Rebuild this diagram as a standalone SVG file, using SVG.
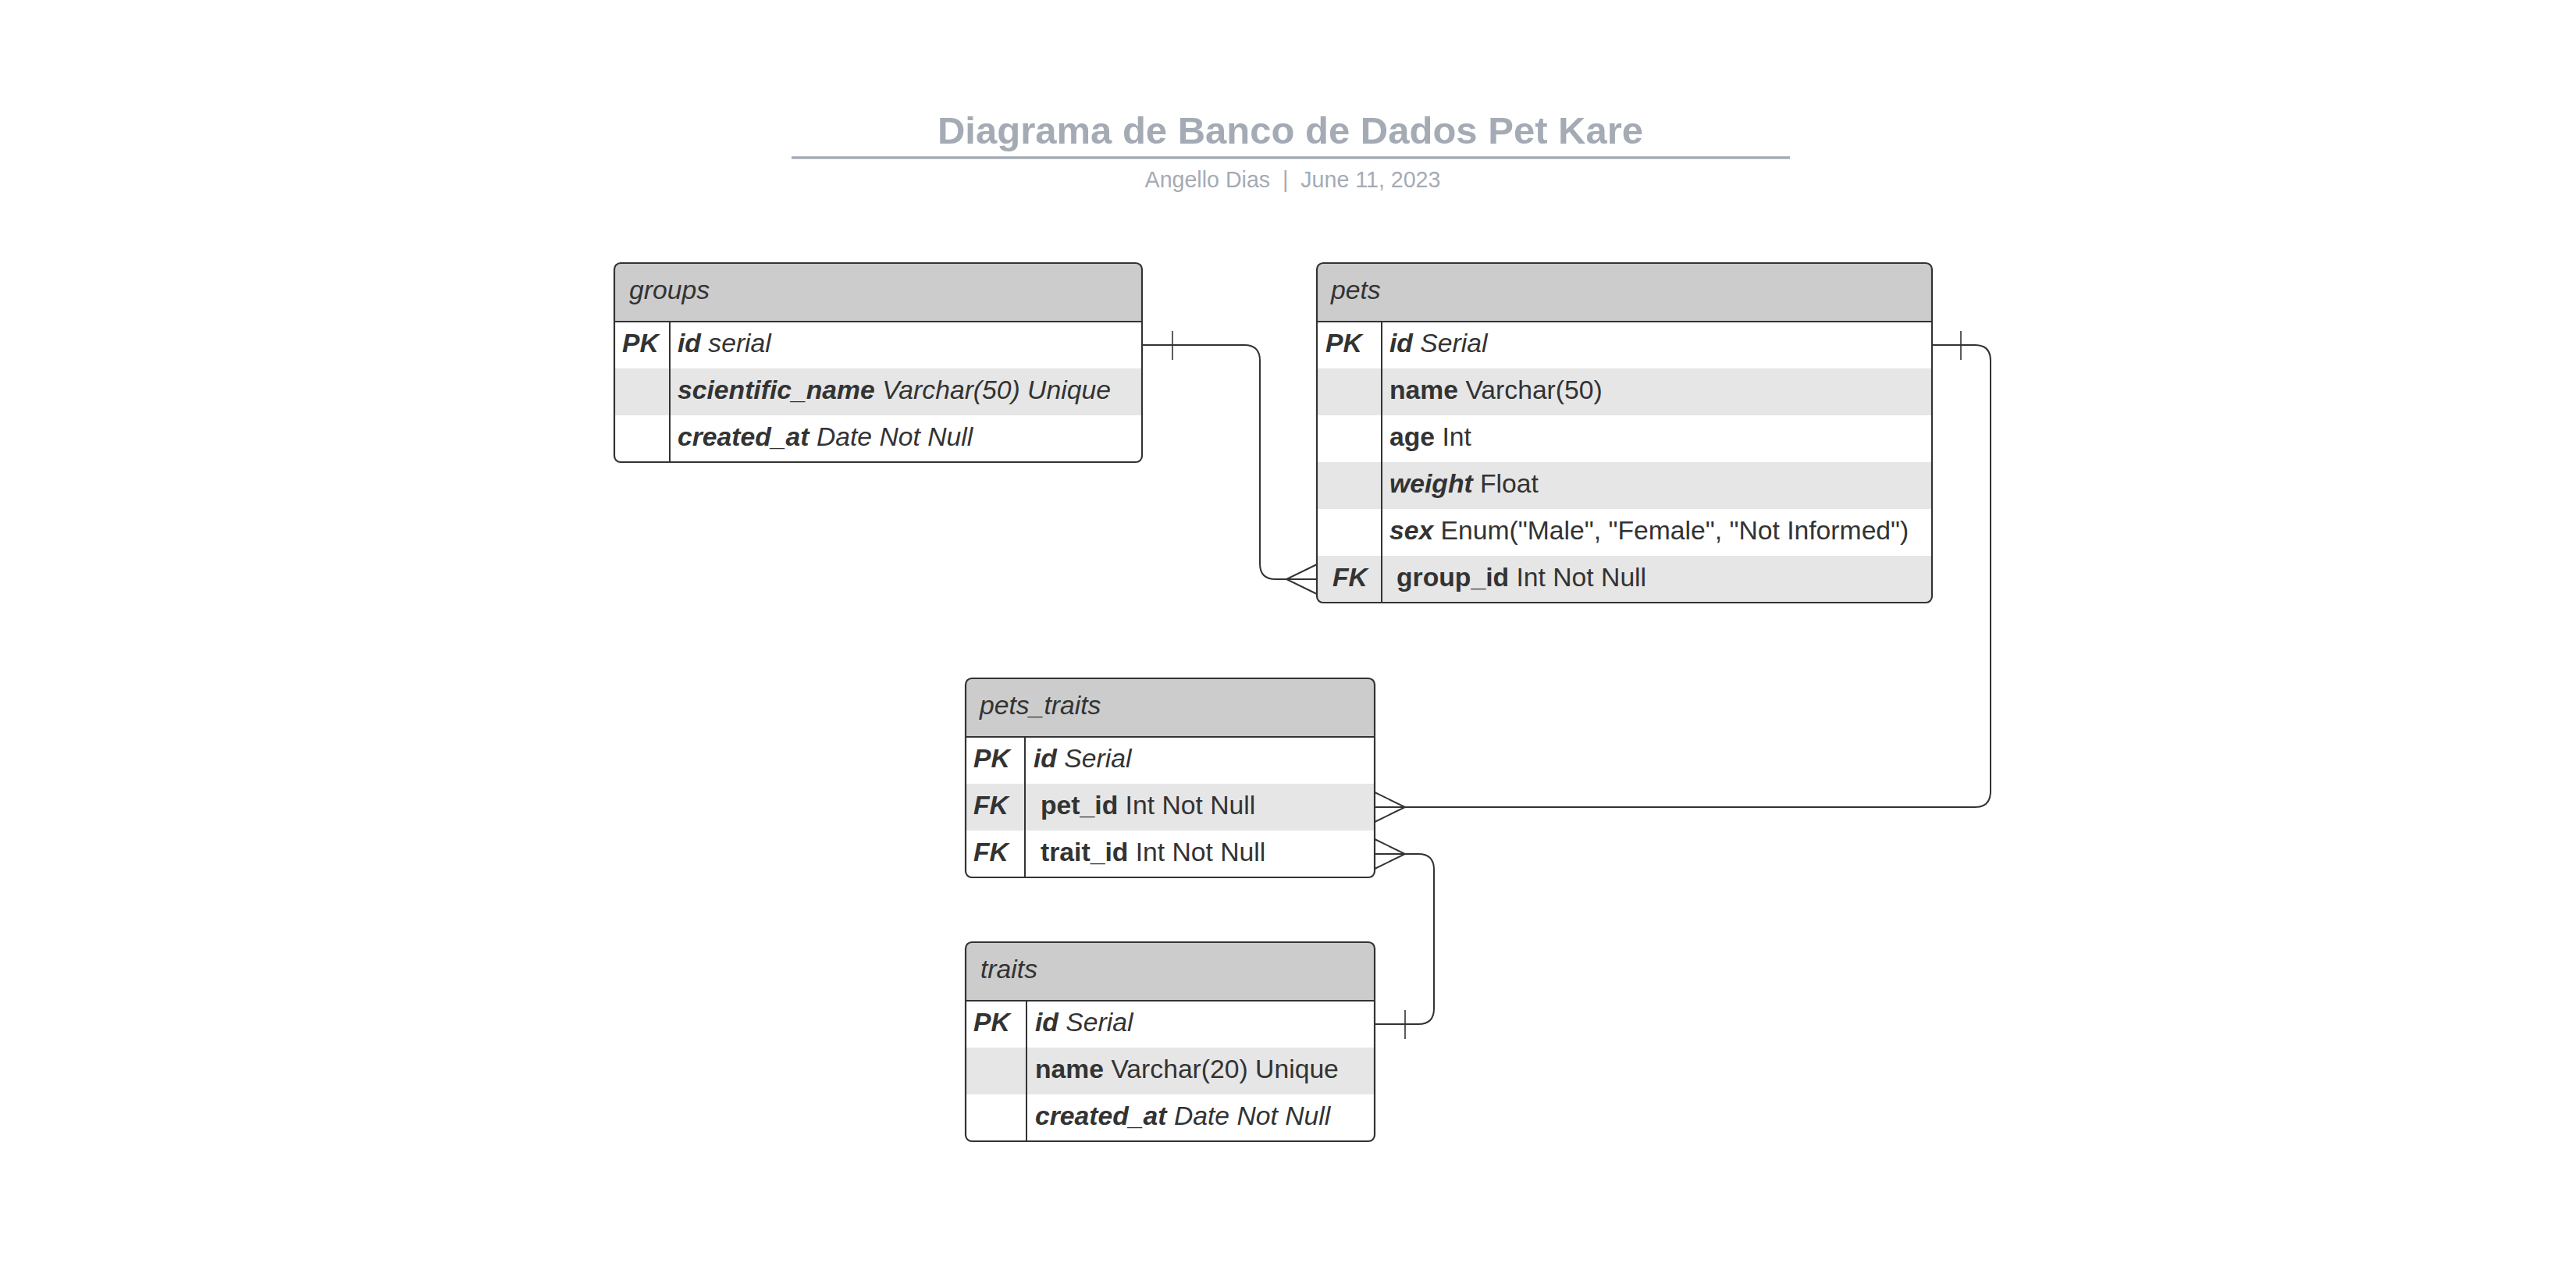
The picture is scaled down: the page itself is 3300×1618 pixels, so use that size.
<svg xmlns="http://www.w3.org/2000/svg" width="3300" height="1618" viewBox="0 0 3300 1618">
<style>
text{font-family:"Liberation Sans",Arial,sans-serif;fill:#333333}
.title{font-size:49px;font-weight:bold;fill:#a5abb5}
.sub{font-size:28.6px;fill:#a5abb5}
.hd{font-size:33.7px;font-style:italic}
.t{font-size:33.7px}
.k{font-size:33.7px;font-weight:bold;font-style:italic}
.b{font-weight:bold}
.i{font-style:italic}
.hfill{fill:#cccccc}
.alt{fill:#e6e6e6}
.out{fill:none;stroke:#333333;stroke-width:2.2}
.ln{stroke:#333333;stroke-width:2;fill:none}
.cn{stroke:#333333;stroke-width:2;fill:none}
.tick{stroke:#333333;stroke-width:1.6;fill:none}
</style>
<defs>
<clipPath id="cg"><rect x="787" y="337" width="676" height="255" rx="8"/></clipPath>
<clipPath id="cp"><rect x="1687" y="337" width="788" height="435" rx="8"/></clipPath>
<clipPath id="cpt"><rect x="1237" y="869" width="524" height="255" rx="8"/></clipPath>
<clipPath id="ct"><rect x="1237" y="1207" width="524" height="255" rx="8"/></clipPath>
</defs>
<rect width="3300" height="1618" fill="#ffffff"/>

<g id="title">
<text class="title" x="1653" y="184" text-anchor="middle">Diagrama de Banco de Dados Pet Kare</text>
<line x1="1014" y1="202" x2="2293" y2="202" stroke="#a5abb5" stroke-width="3.5"/>
<text class="sub" x="1656" y="240" text-anchor="middle" xml:space="preserve">Angello Dias  |  June 11, 2023</text>
</g>

<g id="groups">
<g clip-path="url(#cg)">
<rect x="787" y="337" width="676" height="255" fill="#ffffff"/>
<rect class="hfill" x="787" y="337" width="676" height="75"/>
<rect class="alt" x="787" y="472" width="676" height="60"/>
</g>
<line class="ln" x1="787" y1="412" x2="1463" y2="412"/>
<line class="ln" x1="858" y1="412" x2="858" y2="592"/>
<rect class="out" x="787" y="337" width="676" height="255" rx="8"/>
<text class="hd" x="806" y="383">groups</text>
<text class="k" x="797" y="451">PK</text>
<text class="t i" x="868" y="451"><tspan class="b">id</tspan> serial</text>
<text class="t i" x="868" y="511"><tspan class="b">scientific_name</tspan> Varchar(50) Unique</text>
<text class="t i" x="868" y="571"><tspan class="b">created_at</tspan> Date Not Null</text>
</g>

<g id="pets">
<g clip-path="url(#cp)">
<rect x="1687" y="337" width="788" height="435" fill="#ffffff"/>
<rect class="hfill" x="1687" y="337" width="788" height="75"/>
<rect class="alt" x="1687" y="472" width="788" height="60"/>
<rect class="alt" x="1687" y="592" width="788" height="60"/>
<rect class="alt" x="1687" y="712" width="788" height="60"/>
</g>
<line class="ln" x1="1687" y1="412" x2="2475" y2="412"/>
<line class="ln" x1="1770" y1="412" x2="1770" y2="772"/>
<rect class="out" x="1687" y="337" width="788" height="435" rx="8"/>
<text class="hd" x="1705" y="383">pets</text>
<text class="k" x="1698" y="451">PK</text>
<text class="t" x="1780" y="451"><tspan class="b i">id</tspan><tspan class="i"> Serial</tspan></text>
<text class="t" x="1780" y="511"><tspan class="b">name</tspan> Varchar(50)</text>
<text class="t" x="1780" y="571"><tspan class="b">age</tspan> Int</text>
<text class="t" x="1780" y="631"><tspan class="b i">weight</tspan> Float</text>
<text class="t" x="1780" y="691"><tspan class="b i">sex</tspan> Enum("Male", "Female", "Not Informed")</text>
<text class="k" x="1707" y="751">FK</text>
<text class="t" x="1789" y="751"><tspan class="b">group_id</tspan> Int Not Null</text>
</g>

<g id="pets_traits">
<g clip-path="url(#cpt)">
<rect x="1237" y="869" width="524" height="255" fill="#ffffff"/>
<rect class="hfill" x="1237" y="869" width="524" height="75"/>
<rect class="alt" x="1237" y="1004" width="524" height="60"/>
</g>
<line class="ln" x1="1237" y1="944" x2="1761" y2="944"/>
<line class="ln" x1="1313" y1="944" x2="1313" y2="1124"/>
<rect class="out" x="1237" y="869" width="524" height="255" rx="8"/>
<text class="hd" x="1255" y="915">pets_traits</text>
<text class="k" x="1247" y="983">PK</text>
<text class="t i" x="1324" y="983"><tspan class="b">id</tspan> Serial</text>
<text class="k" x="1247" y="1043">FK</text>
<text class="t" x="1333" y="1043"><tspan class="b">pet_id</tspan> Int Not Null</text>
<text class="k" x="1247" y="1103">FK</text>
<text class="t" x="1333" y="1103"><tspan class="b">trait_id</tspan> Int Not Null</text>
</g>

<g id="traits">
<g clip-path="url(#ct)">
<rect x="1237" y="1207" width="524" height="255" fill="#ffffff"/>
<rect class="hfill" x="1237" y="1207" width="524" height="75"/>
<rect class="alt" x="1237" y="1342" width="524" height="60"/>
</g>
<line class="ln" x1="1237" y1="1282" x2="1761" y2="1282"/>
<line class="ln" x1="1315" y1="1282" x2="1315" y2="1462"/>
<rect class="out" x="1237" y="1207" width="524" height="255" rx="8"/>
<text class="hd" x="1256" y="1253">traits</text>
<text class="k" x="1247" y="1321">PK</text>
<text class="t i" x="1326" y="1321"><tspan class="b">id</tspan> Serial</text>
<text class="t" x="1326" y="1381"><tspan class="b">name</tspan> Varchar(20) Unique</text>
<text class="t i" x="1326" y="1441"><tspan class="b">created_at</tspan> Date Not Null</text>
</g>

<g id="connectors">
<path class="cn" d="M1463,442 H1594 Q1614,442 1614,462 V722 Q1614,742 1634,742 H1687"/>
<path class="tick" d="M1502,424 V461"/>
<path class="cn" d="M1687,723 L1648,742 L1687,761"/>

<path class="cn" d="M2475,442 H2530 Q2550,442 2550,462 V1014 Q2550,1034 2530,1034 H1761"/>
<path class="tick" d="M2512,424 V461"/>
<path class="cn" d="M1761,1015 L1800,1034 L1761,1053"/>

<path class="cn" d="M1761,1094 H1817 Q1837,1094 1837,1114 V1292 Q1837,1312 1817,1312 H1761"/>
<path class="tick" d="M1800,1294 V1331"/>
<path class="cn" d="M1761,1075 L1800,1094 L1761,1113"/>
</g>
</svg>
